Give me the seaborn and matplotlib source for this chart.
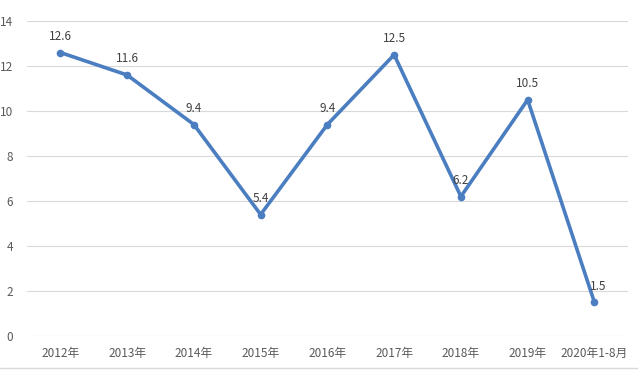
import matplotlib
matplotlib.use("Agg")
import matplotlib.pyplot as plt
import seaborn as sns
import pandas as pd

categories = ["2012年", "2013年", "2014年", "2015年", "2016年", "2017年", "2018年", "2019年", "2020年1-8月"]
values = [12.6, 11.6, 9.4, 5.4, 9.4, 12.5, 6.2, 10.5, 1.5]
y_ticks = [0, 2, 4, 6, 8, 10, 12, 14]

sns.set_style("white")
plt.rcParams['font.family'] = ['Noto Sans CJK SC', 'DejaVu Sans']

df = pd.DataFrame({"cat": categories, "val": values})
df["x"] = range(len(categories))

fig = plt.figure(figsize=(6.38, 3.70), dpi=100)
ax = fig.add_axes([0.0423, 0.0919, 0.9417, 0.8513])
sns.lineplot(data=df, x="x", y="val", ax=ax, color="#4A7EC1", linewidth=2.6,
             marker="o", markersize=5.5, markeredgewidth=0, sort=False)

ax.set_xlim(-0.5, len(categories) - 0.5)
ax.set_ylim(0, 14)
ax.set_yticks(y_ticks)
ax.set_xticks(range(len(categories)))
ax.set_xticklabels(categories)
ax.set_xlabel("")
ax.set_ylabel("")
ax.grid(axis="y", color="#D9D9D9", linewidth=0.8)
ax.set_axisbelow(True)
for s in ax.spines.values():
    s.set_visible(False)
ax.tick_params(axis="both", length=0, labelsize=8.5, colors="#595959")
ax.tick_params(axis="x", pad=8)
ax.tick_params(axis="y", pad=10)

for i, v in enumerate(values):
    dx = 3 if i == len(values) - 1 else 0
    ax.annotate(f"{v}", (i, v), xytext=(dx, 7), textcoords="offset points",
                ha="center", va="bottom", fontsize=8.5, color="#404040")

fig.add_artist(plt.Line2D([0, 1], [0.005, 0.005], color="#D9D9D9", linewidth=1, transform=fig.transFigure))
fig.savefig("out.png", dpi=100)
